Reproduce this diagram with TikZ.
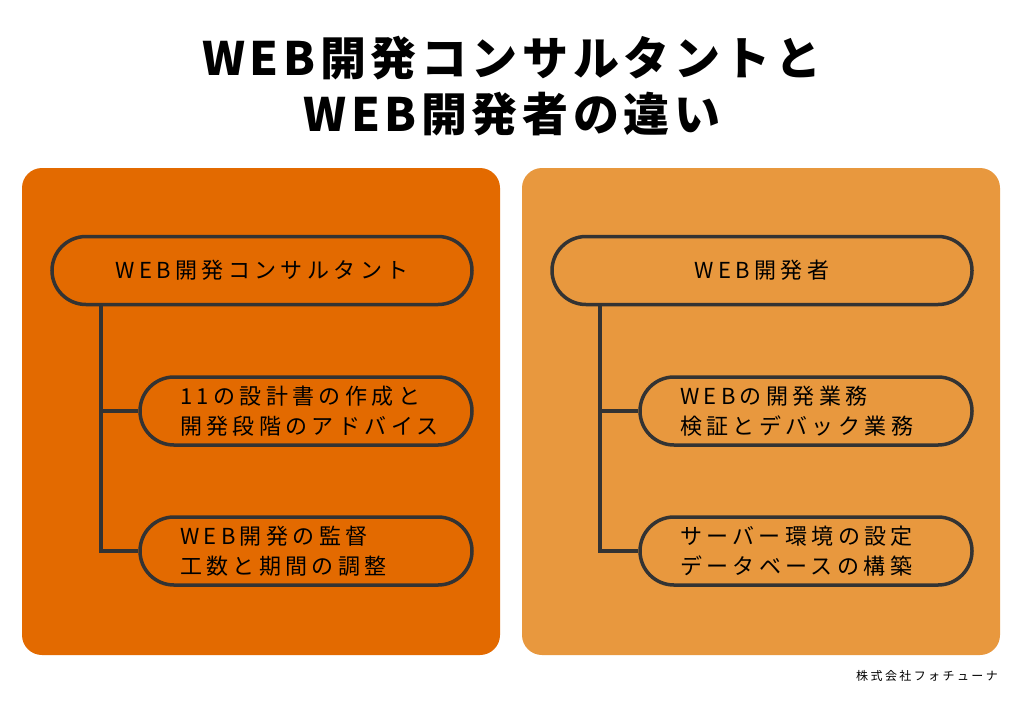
\documentclass[tikz,border=0pt]{standalone}
\usepackage{fontspec}
\setmainfont{Noto Sans CJK JP}[LetterSpace=20]
\newfontfamily\titlefont{Noto Sans CJK JP Black}[LetterSpace=10]
\usetikzlibrary{positioning}
\definecolor{deeporange}{HTML}{E36A00}
\definecolor{softorange}{HTML}{E8983E}
\definecolor{pillline}{HTML}{333333}
\tikzset{
  panel/.style={rectangle, rounded corners=20pt, minimum width=478pt, minimum height=487pt, inner sep=0pt},
  pill/.style={rectangle, rounded corners=34pt, draw=pillline, line width=3.5pt, minimum height=68pt, inner sep=0pt, font=\fontsize{22}{30}\selectfont},
  branch/.style={draw=pillline, line width=3.5pt},
}
\begin{document}
\begin{tikzpicture}[x=1pt, y=-1pt]
  \useasboundingbox (0,0) rectangle (1024,710);
  \fill[white] (0,0) rectangle (1024,710);

  % title
  \node[font=\titlefont\fontsize{46}{56}\selectfont, align=center] (title) at (512,86)
    {WEB開発コンサルタントと\\WEB開発者の違い};

  % panels
  \node[panel, fill=deeporange] (leftpanel) at (261,411.5) {};
  \node[panel, fill=softorange] (rightpanel) at (761,411.5) {};

  % left side
  \node[pill, fill=deeporange, minimum width=420pt] (consult) at (262,270.5) {WEB開発コンサルタント};
  \node[pill, fill=deeporange, minimum width=332pt, text width=252pt, align=left] (advice) at (306,411)
    {11の設計書の作成と\\開発段階のアドバイス};
  \node[pill, fill=deeporange, minimum width=332pt, text width=252pt, align=left] (supervise) at (306,551)
    {WEB開発の監督\\工数と期間の調整};
  \coordinate (ltop) at (101,305);
  \draw[branch] (ltop) |- (supervise.west);
  \draw[branch] (ltop |- advice.west) -- (advice.west);

  % right side
  \node[pill, fill=softorange, minimum width=420pt] (developer) at (762,270.5) {WEB開発者};
  \node[pill, fill=softorange, minimum width=332pt, text width=252pt, align=left] (devwork) at (806,411)
    {WEBの開発業務\\検証とデバック業務};
  \node[pill, fill=softorange, minimum width=332pt, text width=252pt, align=left] (server) at (806,551)
    {サーバー環境の設定\\データベースの構築};
  \coordinate (rtop) at (600,305);
  \draw[branch] (rtop) |- (server.west);
  \draw[branch] (rtop |- devwork.west) -- (devwork.west);

  % footer
  \node[anchor=east, font=\fontsize{12}{14}\selectfont, inner sep=0pt] (company) at (998,676) {株式会社フォチューナ};
\end{tikzpicture}
\end{document}
